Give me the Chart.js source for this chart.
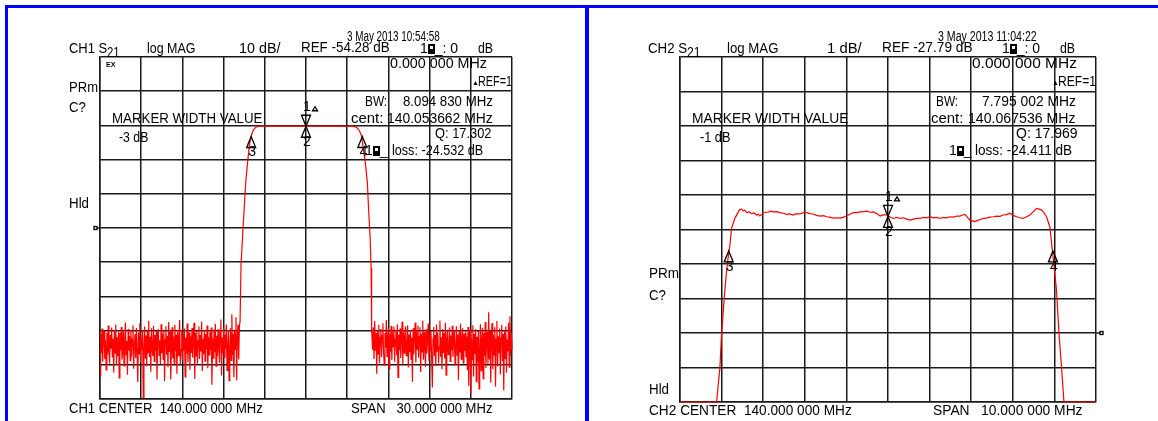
<!DOCTYPE html>
<html>
<head>
<meta charset="utf-8">
<title>S21 filter sweeps</title>
<script src="https://cdn.jsdelivr.net/npm/chart.js@4.4.1/dist/chart.umd.min.js"></script>
<style>
  body { margin:0; width:1158px; height:421px; overflow:hidden; background:#fff; position:relative;
         font-family:"Liberation Sans", Arial, sans-serif; font-size:14px; color:#000; }
  .t { position:absolute; white-space:pre; line-height:14px; transform-origin:0 50%; z-index:2; }
  .bl { position:absolute; background:#0000ff; }
  canvas { position:absolute; z-index:1; }
  .bx { display:inline-block; width:7px; height:10px; background:#000; position:relative; vertical-align:-1px; }
  .bx:after { content:""; position:absolute; left:2px; top:2px; width:3px; height:3px; background:#fff; }
</style>
</head>
<body>
<div class="bl" style="left:5px;top:5px;width:1153px;height:3px"></div>
<div class="bl" style="left:5px;top:5px;width:3px;height:416px"></div>
<div class="bl" style="left:585px;top:5px;width:4px;height:416px"></div>

<canvas id="ch1" width="432" height="356" style="left:88px;top:50px;width:432px;height:356px"></canvas>
<canvas id="ch2" width="436" height="359" style="left:670px;top:50px;width:436px;height:359px"></canvas>

<div class="t" style="left:420px;top:41px">1<span class="bx"></span>_: 0</div>
<div class="t" style="left:365px;top:143px">1<span class="bx"></span>_</div>
<div class="t" style="left:472px;top:76px;font-size:7px">▲</div>
<div class="t" style="left:106px;top:58px;font-size:7px;font-weight:bold">EX</div>

<div class="t" style="left:1002px;top:41px">1<span class="bx"></span>_: 0</div>
<div class="t" style="left:949px;top:143px">1<span class="bx"></span>_</div>
<div class="t" style="left:1052px;top:76px;font-size:7px">▲</div>

<script>
// ---- CH1: S21 log MAG, 10 dB/div, ref -54.28 dB at centre line
const ch1Ref = -54.28, ch1PerDiv = 10, ch1RefPos = 5;
const ch1Start = 125, ch1Stop = 155, ch1Div = 3;       // MHz
const ch1NoiseStep = 0.05;

const ch1NoiseLoStart = 125.0;
const ch1NoiseLo = [
  -97.5, -85.2, -90.9, -83.7, -93.4, -86.0, -84.3, -92.6, -87.1, -95.8, -84.9, -91.2, -82.8, -90.4, -93.9, -85.5, -89.6,
  -83.4, -92.1, -86.7, -96.5, -84.1, -90.8, -82.5, -94.3, -86.2, -91.7, -84.6, -98.1, -85.0, -89.9, -83.2, -92.8, -90.3,
  -84.7, -94.6, -86.5, -81.9, -91.4, -87.3, -97.2, -83.8, -90.1, -85.9, -93.1, -84.0, -91.9, -86.8, -82.7, -95.4, -89.0,
  -85.3, -92.3, -83.5, -90.6, -99.3, -84.8, -91.1, -82.1, -93.6, -86.4, -90.0, -84.2, -103.9, -89.7, -83.1, -92.5, -85.7,
  -94.8, -84.4, -90.7, -81.4, -92.0, -86.1, -96.3, -83.6, -89.4, -91.8, -82.9, -93.3, -85.6, -90.2, -84.5, -98.6, -86.3,
  -83.9, -91.5, -87.2, -94.1, -82.4, -90.9, -85.1, -92.7, -84.3, -99.0, -86.9, -83.0, -91.3, -85.8, -95.0, -81.8, -90.5,
  -84.6, -98.6, -89.5, -83.3, -92.4, -86.0, -93.8, -82.6, -90.3, -85.4, -96.9, -84.1, -91.6, -86.6, -81.2, -94.5, -89.8,
  -84.0, -92.9, -85.2, -90.1, -83.7, -97.8, -86.4, -91.0, -82.2, -93.5, -89.0, -84.8, -95.7, -85.9, -90.8, -83.5, -92.2,
  -86.2, -82.0, -98.4, -85.0, -91.7, -84.4, -94.0, -87.3, -83.1, -92.6, -85.6, -90.4, -81.6, -96.1, -86.7, -91.1, -84.2,
  -93.2, -85.3, -89.9, -82.8, -95.3, -86.1, -91.4, -84.7, -90.0, -83.4, -100.1, -86.5, -92.3, -84.0, -90.6, -82.3, -94.7,
  -85.8, -91.8, -83.9, -89.2, -93.7, -84.5, -81.0, -97.4, -86.3, -90.9, -83.2, -92.1, -85.4, -89.6, -82.5, -95.9, -88.9,
  -84.1, -98.9, -90.2, -83.6, -93.0, -79.5, -91.5, -85.1, -97.9, -84.3, -89.8, -80.4, -98.8, -86.0, -82.6, -92.7, -83.0
];

// filter skirts and passband
const ch1EdgeFreq = [135.20, 135.27, 135.42, 135.61, 135.75, 135.88, 136.00, 136.17, 136.35, 136.55,
                     136.9, 137.6, 138.3, 139.0, 139.8, 140.5, 141.3, 142.0, 142.7, 143.40,
                     143.70, 143.90, 144.05, 144.20, 144.30, 144.47, 144.56, 144.67, 144.74, 144.78];
const ch1EdgeDb   = [-81.5, -65.0, -54.0, -41.0, -35.0, -30.0, -27.5, -25.6, -24.8, -24.5,
                     -24.45, -24.5, -24.45, -24.5, -24.45, -24.5, -24.45, -24.5, -24.45, -24.5,
                     -24.9, -25.9, -27.4, -31.8, -34.5, -41.0, -49.0, -57.0, -66.0, -84.0];

const ch1NoiseHiStart = 144.85;
const ch1NoiseHi = [
  -89.9, -83.4, -92.6, -81.5, -90.2, -85.0, -96.9, -84.2, -91.1, -82.6, -93.8, -86.4, -83.8, -92.0, -85.7, -82.1, -90.7,
  -94.4, -84.9, -89.3, -81.2, -91.8, -86.1, -83.5, -95.5, -85.2, -90.4, -82.9, -92.9, -84.6, -89.0, -83.1, -93.4, -86.8,
  -84.0, -91.4, -82.4, -98.0, -85.5, -90.0, -83.7, -92.3, -86.9, -81.7, -94.1, -84.8, -90.9, -85.9, -83.0, -91.6, -89.4,
  -82.7, -95.1, -85.4, -90.6, -84.1, -92.7, -86.3, -99.2, -83.6, -91.2, -85.8, -81.9, -93.6, -84.4, -89.7, -82.8, -92.2,
  -86.0, -83.3, -96.4, -85.1, -90.5, -81.4, -92.8, -84.7, -89.2, -94.9, -83.9, -91.0, -86.5, -82.2, -93.1, -85.3, -90.1,
  -84.5, -92.5, -100.9, -86.7, -83.2, -91.7, -85.6, -94.6, -82.5, -90.3, -84.9, -93.9, -89.1, -81.3, -91.9, -86.2, -95.6,
  -83.8, -90.8, -85.0, -92.4, -82.0, -97.3, -86.6, -84.3, -91.3, -89.5, -83.4, -93.3, -85.7, -90.0, -82.9, -92.0, -86.4,
  -84.1, -94.3, -89.8, -83.0, -91.5, -85.4, -98.8, -84.6, -90.7, -82.3, -92.6, -86.8, -83.6, -93.7, -85.1, -90.2, -84.8,
  -92.1, -86.0, -95.9, -83.2, -100.4, -89.3, -84.0, -102.8, -86.5, -92.8, -82.7, -97.7, -85.2, -91.1, -83.9, -99.2, -86.1,
  -93.5, -84.2, -101.3, -89.6, -82.4, -96.0, -86.9, -83.5, -98.3, -85.0, -91.8, -81.8, -95.2, -86.3, -84.7, -94.0, -78.9,
  -92.7, -84.4, -99.5, -86.1, -82.1, -95.6, -85.5, -91.4, -83.3, -100.6, -86.8, -81.5, -94.8, -85.9, -90.9, -83.7, -97.1,
  -86.4, -82.6, -93.2, -85.3, -101.8, -84.5, -92.4, -83.1, -96.6, -86.9, -90.4, -82.0, -95.0, -80.1, -91.6, -84.9, -89.7
];

const ch1MarkerNum  = ['1', '2', '3', '4'];
const ch1MarkerFreq = [140.0, 140.0, 136.006, 144.101];
const ch1MarkerDb   = [-24.53, -24.53, -27.53, -27.53];
const ch1MarkerDir  = ['down', 'up', 'up', 'up'];

// ---- CH2: S21 log MAG, 1 dB/div, ref -27.79 dB two divisions above bottom
const ch2Ref = -27.79, ch2PerDiv = 1, ch2RefPos = 2;
const ch2Start = 135, ch2Stop = 145, ch2Div = 1;

const ch2Freq = [135.0, 135.88, 135.96, 136.0, 136.03, 136.06, 136.10, 136.14, 136.20, 136.24, 136.32, 136.43,
  136.48, 136.52, 136.56, 136.60, 136.66, 136.72, 136.78, 136.84, 136.88, 136.92, 136.96, 137.00, 137.06, 137.12,
  137.18, 137.24, 137.32, 137.40, 137.48, 137.56, 137.64, 137.72, 137.80, 137.88, 137.96, 138.05, 138.12, 138.20,
  138.28, 138.37, 138.45, 138.53, 138.61, 138.69, 138.77, 138.85, 138.93, 139.01, 139.09, 139.17, 139.25, 139.33,
  139.41, 139.49, 139.57, 139.65, 139.73, 139.81, 139.89, 139.97, 140.05, 140.13, 140.21, 140.29, 140.37, 140.45,
  140.53, 140.61, 140.69, 140.77, 140.85, 140.93, 141.01, 141.09, 141.17, 141.25, 141.33, 141.41, 141.49, 141.57,
  141.65, 141.73, 141.79, 141.85, 141.91, 141.97, 142.03, 142.09, 142.17, 142.23, 142.29, 142.37, 142.45, 142.53,
  142.61, 142.69, 142.77, 142.85, 142.93, 143.01, 143.09, 143.17, 143.25, 143.33, 143.41, 143.49, 143.57, 143.63,
  143.69, 143.75, 143.81, 143.89, 143.95, 143.99, 144.05, 144.11, 144.17, 144.23, 145.0];
const ch2Db = [-29.79, -29.79, -28.78, -27.79, -27.33, -26.83, -26.25, -25.76, -25.24, -24.75, -24.46, -24.22,
  -24.20, -24.25, -24.23, -24.30, -24.28, -24.33, -24.31, -24.37, -24.35, -24.40, -24.36, -24.31, -24.29, -24.29,
  -24.26, -24.28, -24.27, -24.30, -24.32, -24.35, -24.34, -24.37, -24.33, -24.34, -24.30, -24.30, -24.33, -24.34,
  -24.38, -24.40, -24.39, -24.42, -24.44, -24.46, -24.45, -24.46, -24.43, -24.40, -24.34, -24.30, -24.30, -24.28,
  -24.27, -24.26, -24.29, -24.28, -24.33, -24.40, -24.36, -24.37, -24.43, -24.47, -24.44, -24.47, -24.45, -24.49,
  -24.52, -24.49, -24.47, -24.47, -24.44, -24.45, -24.42, -24.45, -24.44, -24.47, -24.44, -24.45, -24.42, -24.43,
  -24.40, -24.40, -24.37, -24.35, -24.44, -24.52, -24.54, -24.56, -24.52, -24.50, -24.47, -24.46, -24.43, -24.42,
  -24.40, -24.41, -24.37, -24.36, -24.32, -24.38, -24.42, -24.45, -24.47, -24.42, -24.37, -24.28, -24.18, -24.20,
  -24.22, -24.30, -24.42, -24.71, -25.38, -25.82, -26.54, -27.80, -28.76, -29.79, -29.79];

const ch2MarkerNum  = ['1', '2', '3', '4'];
const ch2MarkerFreq = [140.0, 140.0, 136.17, 143.965];
const ch2MarkerDb   = [-24.41, -24.41, -25.41, -25.41];
const ch2MarkerDir  = ['down', 'up', 'up', 'up'];

// ---- annotation text: [text, left, centre y, width, font size]
const texts = [
  ['CH1 S', 69, 48, 38], ['21', 107, 52, 13], ['log MAG', 147, 48, 48], ['10 dB/', 239, 48, 41],
  ['REF -54.28 dB', 301, 47, 89], ['3 May 2013 10:54:58', 347, 36, 93], ['dB', 478, 48, 15],
  ['0.000 000 MHz', 390, 63, 97], ['REF=1', 478, 81, 34],
  ['BW:', 365, 101, 22], ['8.094 830 MHz', 403, 101, 90],
  ['cent:', 351, 118, 32], ['140.053662 MHz', 387, 118, 106],
  ['Q: 17.302', 435, 133, 57], ['loss: -24.532 dB', 392, 150, 91],
  ['PRm', 69, 87, 29], ['C?', 69, 107, 17], ['MARKER WIDTH VALUE', 112, 118, 150], ['-3 dB', 119, 137, 29],
  ['Hld', 69, 203, 20], ['CH1 CENTER  140.000 000 MHz', 69, 408, 194], ['SPAN   30.000 000 MHz', 351, 408, 141],

  ['CH2 S', 648, 48, 39], ['21', 687, 52, 14], ['log MAG', 727, 48, 51], ['1 dB/', 827, 48, 35],
  ['REF -27.79 dB', 882, 47, 91], ['3 May 2013 11:04:22', 938, 36, 99], ['dB', 1060, 48, 15],
  ['0.000 000 MHz', 972, 63, 105], ['REF=1', 1058, 81, 38],
  ['BW:', 936, 101, 22], ['7.795 002 MHz', 982, 101, 94],
  ['cent:', 931, 118, 32], ['140.067536 MHz', 968, 118, 108],
  ['Q: 17.969', 1016, 133, 62], ['loss: -24.411 dB', 975, 150, 97],
  ['MARKER WIDTH VALUE', 692, 118, 156], ['-1 dB', 700, 137, 30],
  ['PRm', 649, 273, 30], ['C?', 649, 295, 17], ['Hld', 649, 389, 20],
  ['CH2 CENTER  140.000 000 MHz', 649, 410, 203], ['SPAN   10.000 000 MHz', 933, 410, 149]
];

texts.forEach(function (t) {
  var d = document.createElement('div');
  d.className = 't';
  d.textContent = t[0];
  d.style.left = t[1] + 'px';
  d.style.top = (t[2] - 7) + 'px';
  if (t[4]) d.style.fontSize = t[4] + 'px';
  document.body.appendChild(d);
  var nat = d.offsetWidth;
  if (t[3] && nat) d.style.transform = 'scaleX(' + (t[3] / nat).toFixed(3) + ')';
});

function sweep(start, step, vals) {
  return vals.map(function (v, i) { return { x: start + i * step, y: v }; });
}

function pairs(fs, vs) {
  return fs.map(function (f, i) { return { x: f, y: vs[i] }; });
}

// markers, labels and the reference-position tick, placed through the chart's scales
function overlay(m) {
  return {
    id: 'vnaOverlay',
    afterDatasetsDraw: function (chart) {
      var ctx = chart.ctx, xs = chart.scales.x, ys = chart.scales.y, a = chart.chartArea;
      ctx.save();
      ctx.strokeStyle = '#000';
      ctx.fillStyle = '#000';
      ctx.lineWidth = 1.3;
      ctx.font = '14px "Liberation Sans", Arial, sans-serif';
      ctx.textAlign = 'center';
      ctx.textBaseline = 'middle';
      m.freq.forEach(function (f, i) {
        var px = xs.getPixelForValue(f), py = ys.getPixelForValue(m.db[i]);
        var s = m.dir[i] === 'down' ? -1 : 1;
        ctx.beginPath();
        ctx.moveTo(px, py);
        ctx.lineTo(px - 4.5, py + s * 11);
        ctx.lineTo(px + 4.5, py + s * 11);
        ctx.closePath();
        ctx.stroke();
        ctx.fillText(m.num[i], px + 1, s > 0 ? py + 16 : py - 19);
        if (s < 0) {
          var qx = px + 9, qy = py - 17;
          ctx.beginPath();
          ctx.moveTo(qx, qy - 2.5);
          ctx.lineTo(qx - 2.5, qy + 1.5);
          ctx.lineTo(qx + 2.5, qy + 1.5);
          ctx.closePath();
          ctx.stroke();
        }
      });
      var ry = ys.getPixelForValue(m.ref);
      ctx.beginPath();
      if (m.side === 'left') {
        ctx.moveTo(a.left - 3, ry); ctx.lineTo(a.left, ry); ctx.stroke();
        ctx.strokeRect(a.left - 6, ry - 1.5, 3, 3);
      } else {
        ctx.moveTo(a.right, ry); ctx.lineTo(a.right + 4, ry); ctx.stroke();
        ctx.strokeRect(a.right + 4, ry - 1.5, 3, 3);
      }
      ctx.restore();
    }
  };
}

function vnaChart(id, points, xr, yr, pad, m) {
  var gridCol = '#1a1a1a';
  return new Chart(document.getElementById(id), {
    type: 'line',
    data: { datasets: [{ data: points, borderColor: '#ff0000', borderWidth: 1.2, pointRadius: 0,
                         tension: 0, fill: false, clip: 2 }] },
    options: {
      responsive: false,
      animation: false,
      events: [],
      layout: { padding: pad },
      plugins: { legend: { display: false }, tooltip: { enabled: false } },
      scales: {
        x: { type: 'linear', min: xr[0], max: xr[1],
             ticks: { display: false, stepSize: xr[2] },
             grid: { color: gridCol, lineWidth: 1.5, drawTicks: false },
             border: { color: gridCol, width: 1.5 } },
        y: { type: 'linear', min: yr[0], max: yr[1],
             ticks: { display: false, stepSize: yr[2] },
             grid: { color: gridCol, lineWidth: 1.5, drawTicks: false },
             border: { color: gridCol, width: 1.5 } }
      }
    },
    plugins: [overlay(m)]
  });
}

var ch1Min = ch1Ref - ch1RefPos * ch1PerDiv;
var ch1Pts = sweep(ch1NoiseLoStart, ch1NoiseStep, ch1NoiseLo)
  .concat(pairs(ch1EdgeFreq, ch1EdgeDb))
  .concat(sweep(ch1NoiseHiStart, ch1NoiseStep, ch1NoiseHi));
vnaChart('ch1', ch1Pts, [ch1Start, ch1Stop, ch1Div], [ch1Min, ch1Min + 10 * ch1PerDiv, ch1PerDiv],
  { left: 12, top: 7, right: 8, bottom: 7 },
  { freq: ch1MarkerFreq, db: ch1MarkerDb, num: ch1MarkerNum, dir: ch1MarkerDir, ref: ch1Ref, side: 'left' });

var ch2Min = ch2Ref - ch2RefPos * ch2PerDiv;
vnaChart('ch2', pairs(ch2Freq, ch2Db), [ch2Start, ch2Stop, ch2Div], [ch2Min, ch2Min + 10 * ch2PerDiv, ch2PerDiv],
  { left: 10, top: 7, right: 10, bottom: 7 },
  { freq: ch2MarkerFreq, db: ch2MarkerDb, num: ch2MarkerNum, dir: ch2MarkerDir, ref: ch2Ref, side: 'right' });
</script>
</body>
</html>
